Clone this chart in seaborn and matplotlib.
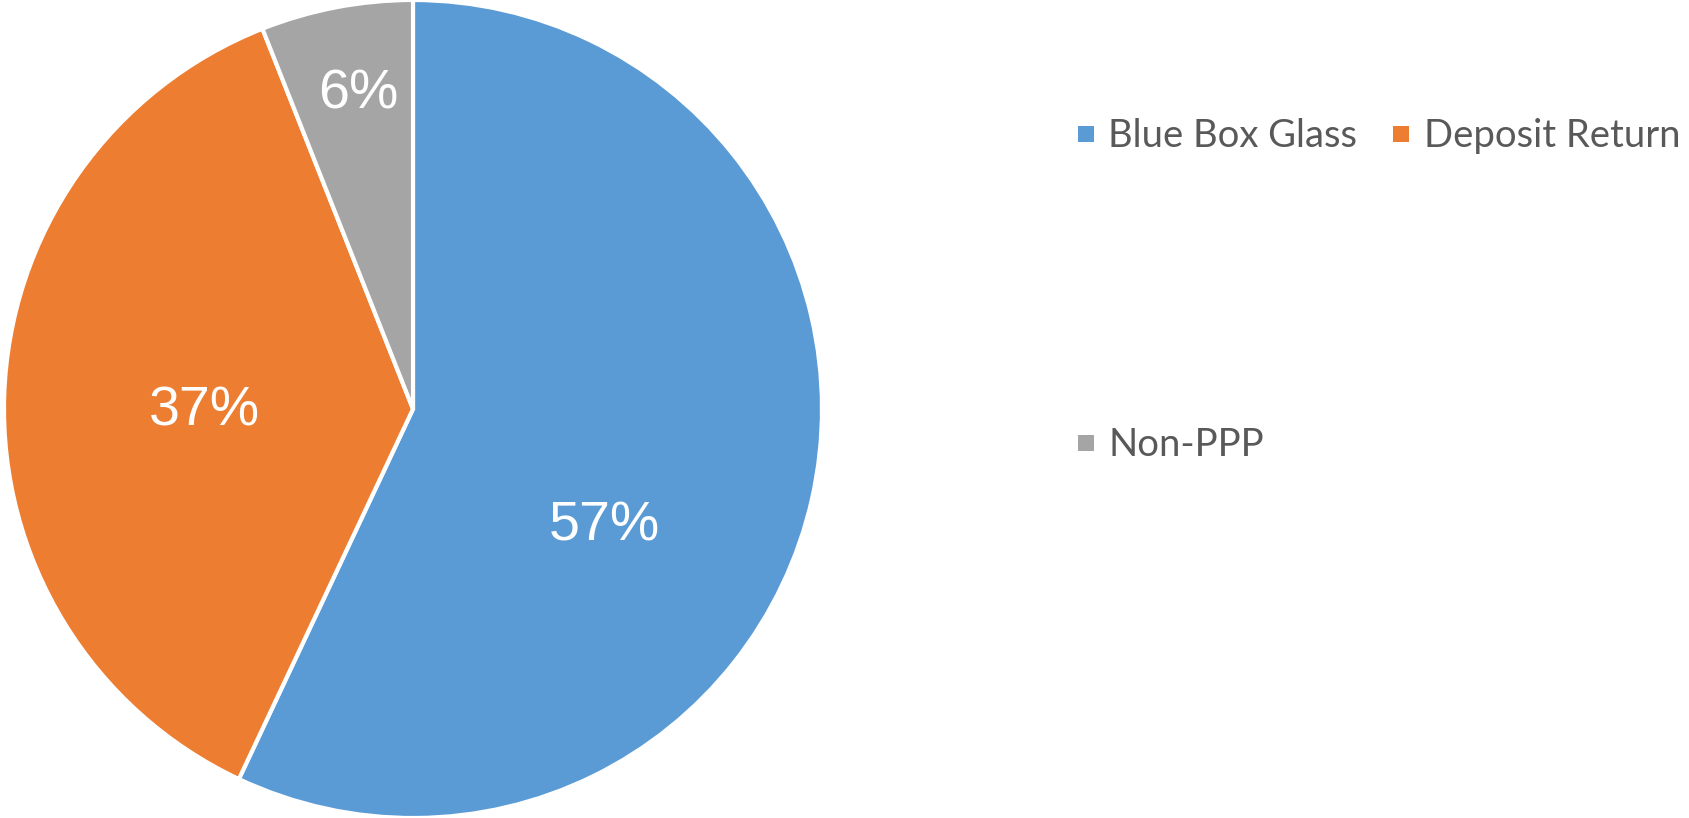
import numpy as np
import matplotlib
matplotlib.use("Agg")
import matplotlib.pyplot as plt
from matplotlib.lines import Line2D
import seaborn as sns

sns.set_theme(style="white")
plt.rcParams['font.family'] = ['Liberation Sans', 'DejaVu Sans']

categories = ["Blue Box Glass", "Deposit Return", "Non-PPP"]
shares = [57, 37, 6]
colors = ["#5B9BD5", "#ED7D31", "#A5A5A5"]

W, H = 1690, 818
fig = plt.figure(figsize=(W / 100, H / 100), dpi=100)
fig.patch.set_facecolor("white")

# square axes holding the pie, left side of the canvas
cx, cy, r = 413, 409, 409
ax = fig.add_axes([(cx - r) / W, (cy - r) / H, 2 * r / W, 2 * r / H])
wedges, _ = ax.pie(shares, colors=colors, startangle=90, counterclock=False,
                   radius=1.0,
                   wedgeprops=dict(edgecolor="white", linewidth=3))
ax.set_xlim(-1, 1)
ax.set_ylim(-1, 1)
ax.set_aspect("equal")
ax.axis("off")

# percentage labels: radial fraction and angular shift per wedge
label_radius = [0.55, 0.51, 0.78]
label_shift = [-19, 2.5, -1]
for w, v, rad, sh in zip(wedges, shares, label_radius, label_shift):
    ang = np.deg2rad((w.theta1 + w.theta2) / 2 + sh)
    ax.text(rad * np.cos(ang), rad * np.sin(ang), f"{v}%",
            ha="center", va="center", color="white", fontsize=40,
            family=["Liberation Sans", "DejaVu Sans"])

# legend: two entries on the first row, the third far below
order = [0, 2, 1]
handles = [Line2D([], [], linestyle="none", marker="s", markersize=11.5,
                  markerfacecolor=colors[i], markeredgewidth=0)
           for i in order]
labels = [categories[i] for i in order]
leg = fig.legend(handles, labels, ncol=2, loc="upper left",
                 bbox_to_anchor=(1055 / W, 1 - 99 / H),
                 frameon=False, handlelength=0.6, handletextpad=0.3,
                 columnspacing=0.85, labelspacing=7.15, borderpad=0,
                 prop=dict(family=["Lato", "DejaVu Sans"], size=27.5))
for t in leg.get_texts():
    t.set_color("#595959")

fig.savefig("out.png", dpi=100, facecolor="white")
